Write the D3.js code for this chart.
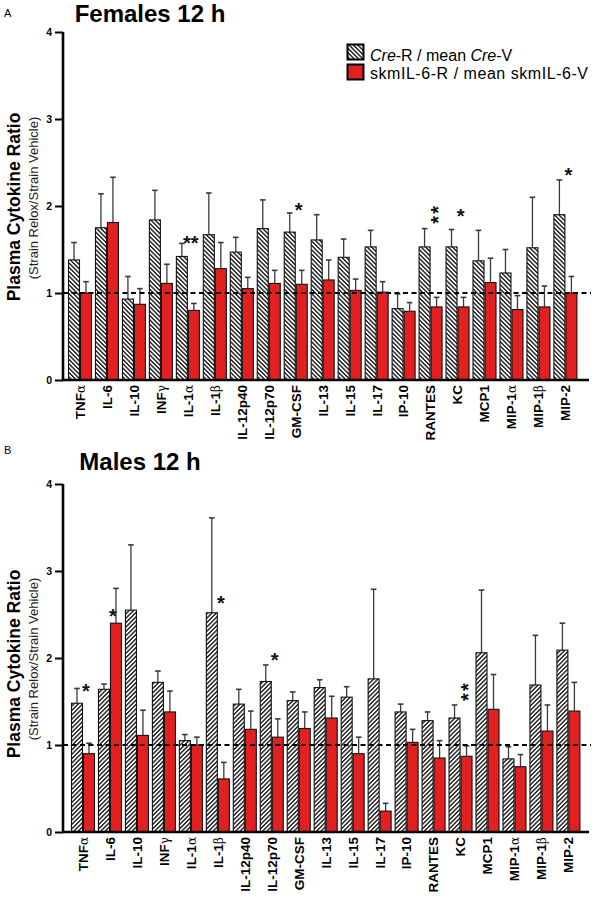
<!DOCTYPE html>
<html>
<head>
<meta charset="utf-8">
<script src="https://cdn.jsdelivr.net/npm/d3@7/dist/d3.min.js"></script>
<style>
  html, body { margin: 0; padding: 0; background: #fff; }
  svg { display: block; font-family: "Liberation Sans", Arial, sans-serif; }
</style>
</head>
<body>
<svg id="chart" width="599" height="900"></svg>
<script>
// ---------------- DATA ----------------
const categories = ["TNFα","IL-6","IL-10","INFγ","IL-1α","IL-1β","IL-12p40","IL-12p70","GM-CSF","IL-13","IL-15","IL-17","IP-10","RANTES","KC","MCP1","MIP-1α","MIP-1β","MIP-2"];
const seriesNames = ["Cre-R / mean Cre-V", "skmIL-6-R / mean skmIL-6-V"];
const yTicks = [0, 1, 2, 3, 4];

// Females 12 h
const femaleCre    = [1.38,1.75,0.93,1.84,1.42,1.67,1.47,1.74,1.70,1.61,1.41,1.53,0.82,1.53,1.53,1.37,1.23,1.52,1.90];
const femaleCreSem = [0.20,0.39,0.26,0.34,0.15,0.48,0.17,0.33,0.22,0.29,0.21,0.19,0.17,0.21,0.20,0.35,0.27,0.58,0.40];
const femaleSkm    = [1.00,1.81,0.87,1.11,0.80,1.28,1.05,1.11,1.10,1.15,1.03,1.01,0.79,0.84,0.84,1.12,0.81,0.84,1.00];
const femaleSkmSem = [0.13,0.52,0.18,0.22,0.08,0.30,0.13,0.15,0.16,0.23,0.13,0.12,0.10,0.11,0.11,0.28,0.16,0.24,0.19];
const femaleSig = [
  {cat: "IL-1α",  mark: "**", at: 1.63, stacked: false},
  {cat: "GM-CSF", mark: "*",  at: 2.01, stacked: false},
  {cat: "RANTES", mark: "**", at: 1.90, stacked: true},
  {cat: "KC",     mark: "*",  at: 1.94, stacked: false},
  {cat: "MIP-2",  mark: "*",  at: 2.41, stacked: false}
];

// Males 12 h
const maleCre    = [1.48,1.64,2.55,1.72,1.05,2.52,1.47,1.73,1.51,1.66,1.55,1.76,1.38,1.28,1.31,2.06,0.84,1.69,2.09];
const maleCreSem = [0.17,0.06,0.75,0.13,0.07,1.09,0.17,0.19,0.10,0.09,0.12,1.03,0.09,0.10,0.15,0.72,0.14,0.57,0.31];
const maleSkm    = [0.90,2.40,1.11,1.38,1.00,0.61,1.18,1.09,1.19,1.31,0.90,0.24,1.03,0.85,0.87,1.41,0.75,1.16,1.39];
const maleSkmSem = [0.12,0.40,0.29,0.24,0.09,0.19,0.21,0.21,0.19,0.25,0.19,0.09,0.15,0.20,0.12,0.40,0.14,0.30,0.33];
const maleSig = [
  {cat: "TNFα",     mark: "*",  at: 1.67, stacked: false},
  {cat: "IL-6",     mark: "*",  at: 2.53, stacked: false},
  {cat: "IL-1β",    mark: "*",  at: 2.68, stacked: false},
  {cat: "IL-12p70", mark: "*",  at: 2.03, stacked: false},
  {cat: "KC",       mark: "**", at: 1.61, stacked: true}
];

// ---------------- DRAW ----------------
const svg = d3.select("#chart");
const RED = "#e2201f";
const defs = svg.append("defs");
function hatch(id, angle) {
  const p = defs.append("pattern")
    .attr("id", id).attr("patternUnits", "userSpaceOnUse")
    .attr("width", 3.1).attr("height", 3.1)
    .attr("patternTransform", `rotate(${angle})`);
  p.append("rect").attr("width", 3.1).attr("height", 3.1).attr("fill", "#fff");
  p.append("line").attr("x1", 0.7).attr("y1", 0).attr("x2", 0.7).attr("y2", 3.1)
    .attr("stroke", "#111").attr("stroke-width", 1.35);
}
hatch("hatchBack", -45);
hatch("hatchFwd", 45);

function greekLabel(sel, label) {
  sel.text(null);
  const m = label.match(/^(.*?)([αβγ])$/);
  if (m) {
    sel.append("tspan").text(m[1]);
    sel.append("tspan").attr("font-weight", "normal").attr("font-family", "DejaVu Serif, serif").attr("font-size", "12px").text(m[2]);
  } else {
    sel.append("tspan").text(label);
  }
}

function panel(cfg) {
  const g = svg.append("g");
  const y = d3.scaleLinear().domain([0, 4]).range([cfg.y0, cfg.y0 - 348]);
  const x = d3.scaleBand().domain(categories)
    .range([cfg.xStart, cfg.xStart + 520.2]).paddingInner(0.11).paddingOuter(0.2);
  const xs = d3.scaleBand().domain([0, 1]).range([0, x.bandwidth()]);

  const rows = categories.map((c, i) => ({
    cat: c,
    vals: [
      {s: 0, v: cfg.cre[i], e: cfg.creSem[i]},
      {s: 1, v: cfg.skm[i], e: cfg.skmSem[i]}
    ]
  }));

  const grp = g.selectAll("g.grp").data(rows).join("g")
    .attr("class", "grp").attr("transform", d => `translate(${x(d.cat)},0)`);
  const eb = grp.selectAll("g.eb").data(d => d.vals).join("g").attr("class", "eb");
  eb.append("line")
    .attr("x1", d => xs(d.s) + xs.bandwidth() / 2).attr("x2", d => xs(d.s) + xs.bandwidth() / 2)
    .attr("y1", d => y(d.v)).attr("y2", d => y(d.v + d.e))
    .attr("stroke", "#3a3a3a").attr("stroke-width", 1.3);
  eb.append("line")
    .attr("x1", d => xs(d.s) + xs.bandwidth() / 2 - 2.8).attr("x2", d => xs(d.s) + xs.bandwidth() / 2 + 2.8)
    .attr("y1", d => y(d.v + d.e)).attr("y2", d => y(d.v + d.e))
    .attr("stroke", "#3a3a3a").attr("stroke-width", 1.6);

  grp.selectAll("rect").data(d => d.vals).join("rect")
    .attr("x", d => xs(d.s) + 0.5)
    .attr("width", xs.bandwidth() - 1)
    .attr("y", d => y(d.v))
    .attr("height", d => y(0) - y(d.v))
    .attr("fill", d => d.s === 0 ? `url(#${cfg.pattern})` : RED)
    .attr("stroke", "#111").attr("stroke-width", 1.1);

  g.append("line")
    .attr("x1", cfg.axisX).attr("x2", cfg.axisX + 528)
    .attr("y1", y(1)).attr("y2", y(1))
    .attr("stroke", "#000").attr("stroke-width", 2).attr("stroke-dasharray", "5,3.5");

  const yAxis = g.append("g").attr("transform", `translate(${cfg.axisX},0)`)
    .call(d3.axisLeft(y).tickValues(yTicks).tickSize(8).tickPadding(3).tickFormat(d3.format("d")));
  yAxis.select(".domain").attr("stroke", "#000").attr("stroke-width", 2.6).attr("d", `M0,${y(4)}V${y(0)}`);
  yAxis.selectAll(".tick line").attr("stroke", "#000").attr("stroke-width", 2);
  yAxis.selectAll(".tick text").attr("font-size", "10.5px").attr("font-weight", "bold")
    .attr("font-family", "Liberation Sans, Arial, sans-serif").attr("fill", "#000");

  const xAxis = g.append("g").attr("transform", `translate(0,${cfg.y0})`)
    .call(d3.axisBottom(x).tickSize(0).tickPadding(0));
  xAxis.select(".domain").attr("stroke", "#000").attr("stroke-width", 2.6)
    .attr("d", `M${cfg.axisX - 1},0H${cfg.axisX + 526}`);
  xAxis.selectAll(".tick text")
    .attr("font-size", "13.5px").attr("font-weight", "bold").attr("fill", "#000")
    .attr("font-family", "Liberation Sans, Arial, sans-serif")
    .attr("text-anchor", "end")
    .attr("transform", "rotate(-90)")
    .attr("x", -5).attr("y", 0).attr("dy", "0.36em")
    .each(function(d) { greekLabel(d3.select(this), d); });

  // significance marks (centred on their value position); stacked marks run vertically
  const FS = 20;
  cfg.sig.forEach(s => {
    const cx = x(s.cat) + x.bandwidth() / 2 + 3;
    const cy = y(s.at);
    const t = g.append("text")
      .attr("font-size", FS + "px").attr("font-weight", "bold").attr("fill", "#111")
      .attr("text-anchor", "middle").text(s.mark);
    if (s.stacked) {
      t.attr("transform", `translate(${cx},${cy}) rotate(-90)`)
        .attr("x", 1).attr("y", 0.57 * FS).attr("letter-spacing", 2.2);
    } else {
      t.attr("x", cx).attr("y", cy + 0.57 * FS);
    }
  });

  svg.append("text").attr("x", 4).attr("y", cfg.letterY).attr("font-size", "11px").text(cfg.letter);
  svg.append("text").attr("x", cfg.titleX).attr("y", cfg.titleY).attr("text-anchor", "middle")
    .attr("font-size", "24px").attr("font-weight", "bold").text(cfg.title);

  svg.append("text").attr("transform", `translate(20,${cfg.ytCenter}) rotate(-90)`)
    .attr("text-anchor", "middle").attr("font-size", "17.5px").attr("font-weight", "bold")
    .text("Plasma Cytokine Ratio");
  svg.append("text").attr("transform", `translate(38,${cfg.ysCenter}) rotate(-90)`)
    .attr("text-anchor", "middle").attr("font-size", "13px").attr("fill", "#222")
    .text("(Strain Relox/Strain Vehicle)");
}

panel({
  y0: 380, xStart: 62.6, axisX: 63, pattern: "hatchBack",
  cre: femaleCre, creSem: femaleCreSem, skm: femaleSkm, skmSem: femaleSkmSem, sig: femaleSig,
  letter: "A", letterY: 17, title: "Females 12 h", titleX: 150, titleY: 22,
  ytCenter: 207, ysCenter: 198
});
panel({
  y0: 832, xStart: 65.6, axisX: 63, pattern: "hatchFwd",
  cre: maleCre, creSem: maleCreSem, skm: maleSkm, skmSem: maleSkmSem, sig: maleSig,
  letter: "B", letterY: 454, title: "Males 12 h", titleX: 140, titleY: 470,
  ytCenter: 664, ysCenter: 659
});

// legend
const lg = svg.append("g").attr("transform", "translate(347,44)");
lg.append("rect").attr("x", 0.5).attr("y", 0.5).attr("width", 16).attr("height", 15)
  .attr("fill", "url(#hatchBack)").attr("stroke", "#000").attr("stroke-width", 2);
lg.append("rect").attr("x", 0.5).attr("y", 20.5).attr("width", 16).attr("height", 15)
  .attr("fill", RED).attr("stroke", "#000").attr("stroke-width", 2);
const l1 = lg.append("text").attr("x", 23).attr("y", 16.5).attr("font-size", "16px");
l1.append("tspan").attr("font-style", "italic").text("Cre");
l1.append("tspan").text("-R / mean ");
l1.append("tspan").attr("font-style", "italic").text("Cre");
l1.append("tspan").text("-V");
lg.append("text").attr("x", 23).attr("y", 35).attr("font-size", "16px")
  .attr("textLength", 218).attr("lengthAdjust", "spacing").text(seriesNames[1]);
</script>
</body>
</html>
